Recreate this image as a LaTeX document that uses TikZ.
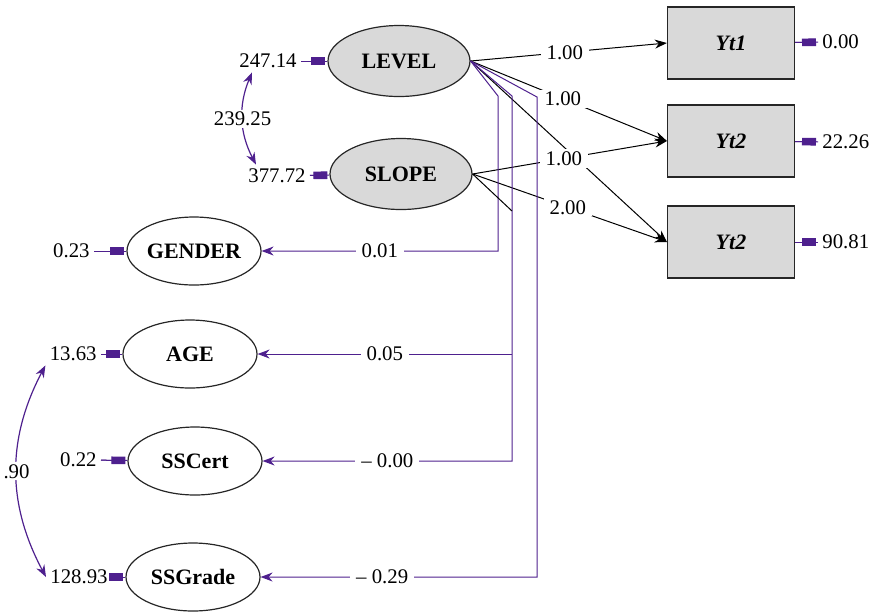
\documentclass[tikz,border=0pt]{standalone}
\usepackage{fontspec}
\setmainfont{Liberation Serif}
\usetikzlibrary{calc,arrows.meta,shapes.geometric}
\definecolor{semviolet}{RGB}{78,32,142}
\tikzset{
	lat/.style={ellipse,draw=black!85,fill=black!15,line width=0.6pt,inner sep=0pt,
		minimum width=71pt,minimum height=35.5pt,font=\fontsize{11}{13}\selectfont\bfseries},
	obs/.style={ellipse,draw=black!85,fill=white,line width=0.6pt,inner sep=0pt,
		minimum width=67pt,minimum height=34pt,font=\fontsize{11}{13}\selectfont\bfseries},
	ind/.style={rectangle,draw=black!85,fill=black!15,line width=0.6pt,
		minimum width=63.5pt,minimum height=36pt,font=\fontsize{11}{13}\selectfont\bfseries\itshape},
	num/.style={inner sep=2pt},
	lbl/.style={fill=white,inner xsep=3pt,inner ysep=1pt}
}

\begin{document}
\begin{tikzpicture}[x=0.5pt,y=-0.5pt,font=\fontsize{10.4}{12}\selectfont,
			load/.style={-{Stealth[length=6pt,width=4.5pt]},draw=black,line width=0.5pt},
			reg/.style={-{Stealth[length=6pt,width=4.5pt]},draw=semviolet,line width=0.5pt},
			cov/.style={{Stealth[length=6pt,width=4.5pt]}-{Stealth[length=6pt,width=4.5pt]},
				draw=semviolet,line width=0.6pt},
			resid/.style={draw=semviolet,line width=0.5pt,-{Rectangle[length=7pt,width=3.8pt]},
				shorten >=1pt,postaction={draw=semviolet,-,shorten >=0pt}}]
	\useasboundingbox (0,0) rectangle (874,612);
	% growth factors and indicators
	\node[lat] (level) at (399,61) {LEVEL};
	\node[lat] (slope) at (401,174) {SLOPE};
	\foreach \n/\t/\y in {yt1/Yt1/43,yt2/Yt2/141,yt3/Yt2/242}
		\node[ind] (\n) at (731,\y) {\t};
	\foreach \n/\t/\x/\y in {gender/GENDER/194/251,age/AGE/190/354,
		sscert/SSCert/195/461,ssgrade/SSGrade/193/577}
		\node[obs] (\n) at (\x,\y) {\t};
	% variances
	\foreach \n/\t/\x/\y in {vlevel/247.14/301/61,vslope/377.72/310/176,vgender/0.23/94/251,
		vage/13.63/101/354,vsscert/0.22/101/460,vssgrade/128.93/112/577}
		\node[num,anchor=east] (\n) at (\x,\y) {\t};
	\foreach \n/\t/\y in {ey1/0.00/42,ey2/22.26/142,ey3/90.81/242}
		\node[num,anchor=west] (\n) at (818,\y) {\t};
	\foreach \a/\b in {vlevel/level,vslope/slope,vgender/gender,vage/age,
		vsscert/sscert,vssgrade/ssgrade,yt1/ey1,yt2/ey2,yt3/ey3}
		\draw[resid] (\a) -- (\b);
	% loadings
	\draw[load] (level.east) -- node[lbl,pos=0.48] {1.00} (yt1.west);
	\draw[load] (level.east) -- node[lbl,pos=0.47] {1.00} (yt2.west);
	\draw[load] (level.east) -- (yt3.west);
	\draw[load] (slope.east) -- node[lbl,pos=0.47] {1.00} (yt2.west);
	\draw[load] (slope.east) -- node[lbl,pos=0.49] {2.00} (yt3.west);
	% covariate paths
	\coordinate (g1) at (498,96);
	\coordinate (s1) at (512,96);
	\coordinate (r1) at (537,97);
	\coordinate (sj) at (512,211);
	\draw[reg] (level.east) -- (g1) |- node[lbl,pos=0.75] {0.01} (gender.east);
	\draw[reg] (level.east) -- (s1) |- node[lbl,pos=0.75] {\textendash\ 0.00} (sscert.east);
	\draw[reg] (age.east -| s1) -- node[lbl] {0.05} (age.east);
	\draw[reg] (level.east) -- (r1) |- node[lbl,pos=0.78] {\textendash\ 0.29} (ssgrade.east);
	\draw[load,-] (slope.east) -- (sj);
	% covariances
	\draw[cov] ($(vlevel.south west)+(17,0)$) to[bend right=25]
		node[lbl,inner xsep=0pt] {239.25} ($(vslope.north west)+(12,0)$);
	\draw[cov] (vage.south west) to[bend right=28]
		node[lbl,inner xsep=1pt] {.90} (vssgrade.west);
\end{tikzpicture}
\end{document}
